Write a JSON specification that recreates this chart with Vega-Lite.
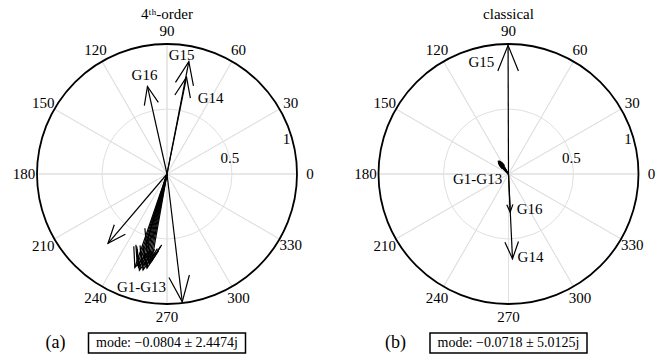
{
  "$schema": "https://vega.github.io/schema/vega-lite/v6.json",
  "background": "white",
  "autosize": {"type": "pad"},
  "padding": {"left": 12, "top": 6, "right": 0, "bottom": 0},
  "config": {
    "font": "Liberation Serif",
    "view": {"stroke": null},
    "text": {"font": "Liberation Serif", "fontSize": 15, "color": "black"},
    "title": {"font": "Liberation Serif", "fontSize": 15, "fontWeight": "normal", "color": "black"}
  },
  "datasets": {
    "spokes": [
      {"a": 0}, {"a": 30}, {"a": 60}, {"a": 90}, {"a": 120}, {"a": 150},
      {"a": 180}, {"a": 210}, {"a": 240}, {"a": 270}, {"a": 300}, {"a": 330}
    ],
    "rticks": [
      {"r": 0.5, "lab": "0.5"},
      {"r": 1, "lab": "1"}
    ],
    "arrows": [
      {"panel": "a", "g": "G1", "re": -0.4537, "im": -0.5331, "mag": 0.70, "phase": 229.6},
      {"panel": "a", "g": "G2", "re": 0.1172, "im": -0.9831, "mag": 0.99, "phase": 276.8},
      {"panel": "a", "g": "G3", "re": -0.2474, "im": -0.7186, "mag": 0.76, "phase": 251},
      {"panel": "a", "g": "G4", "re": -0.2287, "im": -0.7038, "mag": 0.74, "phase": 252},
      {"panel": "a", "g": "G5", "re": -0.2193, "im": -0.7172, "mag": 0.75, "phase": 253},
      {"panel": "a", "g": "G6", "re": -0.2122, "im": -0.7402, "mag": 0.77, "phase": 254},
      {"panel": "a", "g": "G7", "re": -0.1889, "im": -0.7051, "mag": 0.73, "phase": 255},
      {"panel": "a", "g": "G8", "re": -0.1839, "im": -0.7374, "mag": 0.76, "phase": 256},
      {"panel": "a", "g": "G9", "re": -0.1620, "im": -0.7016, "mag": 0.72, "phase": 257},
      {"panel": "a", "g": "G10", "re": -0.1538, "im": -0.7238, "mag": 0.74, "phase": 258},
      {"panel": "a", "g": "G11", "re": -0.1336, "im": -0.6871, "mag": 0.70, "phase": 259},
      {"panel": "a", "g": "G12", "re": -0.1590, "im": -0.5369, "mag": 0.56, "phase": 253.5},
      {"panel": "a", "g": "G13", "re": -0.1181, "im": -0.6697, "mag": 0.68, "phase": 260},
      {"panel": "a", "g": "G14", "re": 0.1502, "im": 0.7450, "mag": 0.76, "phase": 78.6},
      {"panel": "a", "g": "G15", "re": 0.1679, "im": 0.8638, "mag": 0.88, "phase": 79.0},
      {"panel": "a", "g": "G16", "re": -0.1505, "im": 0.6734, "mag": 0.69, "phase": 102.6},
      {"panel": "b", "g": "G1", "re": -0.0450, "im": 0.0779, "mag": 0.09, "phase": 120},
      {"panel": "b", "g": "G2", "re": -0.0530, "im": 0.0848, "mag": 0.10, "phase": 122},
      {"panel": "b", "g": "G3", "re": -0.0615, "im": 0.0912, "mag": 0.11, "phase": 124},
      {"panel": "b", "g": "G4", "re": -0.0688, "im": 0.0983, "mag": 0.12, "phase": 125},
      {"panel": "b", "g": "G5", "re": -0.0588, "im": 0.0809, "mag": 0.10, "phase": 126},
      {"panel": "b", "g": "G6", "re": -0.0692, "im": 0.0918, "mag": 0.115, "phase": 127},
      {"panel": "b", "g": "G7", "re": -0.0739, "im": 0.0946, "mag": 0.12, "phase": 128},
      {"panel": "b", "g": "G8", "re": -0.0692, "im": 0.0855, "mag": 0.11, "phase": 129},
      {"panel": "b", "g": "G9", "re": -0.0771, "im": 0.0919, "mag": 0.12, "phase": 130},
      {"panel": "b", "g": "G10", "re": -0.0689, "im": 0.0792, "mag": 0.105, "phase": 131},
      {"panel": "b", "g": "G11", "re": -0.0736, "im": 0.0817, "mag": 0.11, "phase": 132},
      {"panel": "b", "g": "G12", "re": -0.0660, "im": 0.0683, "mag": 0.095, "phase": 134},
      {"panel": "b", "g": "G13", "re": -0.0575, "im": 0.0556, "mag": 0.08, "phase": 136},
      {"panel": "b", "g": "G14", "re": 0.0308, "im": -0.6523, "mag": 0.653, "phase": 272.7},
      {"panel": "b", "g": "G15", "re": -0.0035, "im": 0.99, "mag": 0.99, "phase": 90.2},
      {"panel": "b", "g": "G16", "re": 0.0128, "im": -0.2937, "mag": 0.294, "phase": 272.5}
    ],
    "notes": [
      {"panel": "a", "lab": "G15", "x": 0.112, "y": 0.912},
      {"panel": "a", "lab": "G14", "x": 0.335, "y": 0.588},
      {"panel": "a", "lab": "G16", "x": -0.173, "y": 0.758},
      {"panel": "a", "lab": "G1-G13", "x": -0.196, "y": -0.873},
      {"panel": "b", "lab": "G15", "x": -0.208, "y": 0.858},
      {"panel": "b", "lab": "G16", "x": 0.162, "y": -0.273},
      {"panel": "b", "lab": "G14", "x": 0.169, "y": -0.642},
      {"panel": "b", "lab": "G1-G13", "x": -0.238, "y": -0.035}
    ],
    "captions": [
      {"panel": "a", "txt": "mode:  −0.0804 ± 2.4474j"},
      {"panel": "b", "txt": "mode:  −0.0718 ± 5.0125j"}
    ]
  },
  "hconcat": [
    {
      "vconcat": [
        {
          "width": 286,
          "height": 286,
          "title": {"text": "4ᵗʰ-order", "anchor": "middle", "frame": "group", "baseline": "alphabetic", "offset": -9.5},
          "layer": [
            {
              "data": {"name": "spokes"},
              "mark": {"type": "arc", "filled": false, "stroke": "#e0e0e0", "strokeWidth": 1},
              "encoding": {
                "theta": {"field": "a", "type": "quantitative", "stack": false, "scale": {"type": "linear", "domain": [0, 360], "range": [1.5708, -4.7124]}},
                "theta2": {"field": "a"},
                "radius": {"datum": 1, "type": "quantitative", "scale": {"type": "linear", "domain": [0, 1.1], "range": [0, 143], "zero": true}}
              }
            },
            {
              "data": {"name": "rticks"},
              "transform": [{"filter": "datum.r < 1"}],
              "mark": {"type": "arc", "filled": false, "stroke": "#e0e0e0", "strokeWidth": 1, "theta": 0, "theta2": 6.2832},
              "encoding": {"radius": {"field": "r", "type": "quantitative"}}
            },
            {
              "data": {"name": "rticks"},
              "transform": [{"filter": "datum.r == 1"}],
              "mark": {"type": "arc", "filled": false, "stroke": "black", "strokeWidth": 1.8, "theta": 0, "theta2": 6.2832},
              "encoding": {"radius": {"field": "r", "type": "quantitative"}}
            },
            {
              "data": {"name": "spokes"},
              "mark": {"type": "text", "align": "center", "baseline": "middle"},
              "encoding": {
                "theta": {"field": "a", "type": "quantitative", "stack": false},
                "radius": {"datum": 1.1, "type": "quantitative"},
                "text": {"field": "a", "type": "quantitative", "format": "d"}
              }
            },
            {
              "data": {"name": "rticks"},
              "mark": {"type": "text", "align": "left", "baseline": "middle", "radiusOffset": -9},
              "encoding": {
                "theta": {"datum": 17, "type": "quantitative"},
                "radius": {"field": "r", "type": "quantitative"},
                "text": {"field": "lab"}
              }
            },
            {
              "data": {"name": "arrows"},
              "transform": [{"filter": "datum.panel == 'a'"}],
              "mark": {"type": "rule", "color": "black", "strokeWidth": 1.2},
              "encoding": {
                "x": {"field": "re", "type": "quantitative", "axis": null, "scale": {"domain": [-1.1, 1.1], "nice": false, "zero": false}},
                "y": {"field": "im", "type": "quantitative", "axis": null, "scale": {"domain": [-1.1, 1.1], "nice": false, "zero": false}},
                "x2": {"datum": 0},
                "y2": {"datum": 0}
              }
            },
            {
              "data": {"name": "arrows"},
              "transform": [{"filter": "datum.panel == 'a'"}],
              "mark": {"type": "point", "shape": "M-0.4,1L0,0L0.4,1", "filled": false, "stroke": "black", "strokeWidth": 1.2, "opacity": 1},
              "encoding": {
                "x": {"field": "re", "type": "quantitative"},
                "y": {"field": "im", "type": "quantitative"},
                "size": {"field": "mag", "type": "quantitative", "legend": null, "scale": {"type": "pow", "exponent": 2, "domain": [0, 1], "range": [0, 2704]}},
                "angle": {"field": "phase", "type": "quantitative", "legend": null, "scale": {"domain": [0, 360], "range": [90, -270]}}
              }
            },
            {
              "data": {"name": "notes"},
              "transform": [{"filter": "datum.panel == 'a'"}],
              "mark": {"type": "text", "align": "center", "baseline": "middle"},
              "encoding": {
                "x": {"field": "x", "type": "quantitative"},
                "y": {"field": "y", "type": "quantitative"},
                "text": {"field": "lab"}
              }
            }
          ]
        },
        {
          "width": 157,
          "height": 20,
          "view": {"stroke": "black", "strokeWidth": 1.5},
          "title": {"text": "(a)", "orient": "left", "angle": 0, "align": "right", "baseline": "middle", "anchor": "middle", "frame": "group", "offset": 3, "fontSize": 18},
          "data": {"name": "captions"},
          "transform": [{"filter": "datum.panel == 'a'"}],
          "mark": {"type": "text", "fontSize": 14, "align": "center", "baseline": "middle"},
          "encoding": {"text": {"field": "txt"}}
        }
      ],
      "spacing": 16,
      "bounds": "flush",
      "center": true
    },
    {
      "vconcat": [
        {
          "width": 286,
          "height": 286,
          "title": {"text": "classical", "anchor": "middle", "frame": "group", "baseline": "alphabetic", "offset": -9.5},
          "layer": [
            {
              "data": {"name": "spokes"},
              "mark": {"type": "arc", "filled": false, "stroke": "#e0e0e0", "strokeWidth": 1},
              "encoding": {
                "theta": {"field": "a", "type": "quantitative", "stack": false, "scale": {"type": "linear", "domain": [0, 360], "range": [1.5708, -4.7124]}},
                "theta2": {"field": "a"},
                "radius": {"datum": 1, "type": "quantitative", "scale": {"type": "linear", "domain": [0, 1.1], "range": [0, 143], "zero": true}}
              }
            },
            {
              "data": {"name": "rticks"},
              "transform": [{"filter": "datum.r < 1"}],
              "mark": {"type": "arc", "filled": false, "stroke": "#e0e0e0", "strokeWidth": 1, "theta": 0, "theta2": 6.2832},
              "encoding": {"radius": {"field": "r", "type": "quantitative"}}
            },
            {
              "data": {"name": "rticks"},
              "transform": [{"filter": "datum.r == 1"}],
              "mark": {"type": "arc", "filled": false, "stroke": "black", "strokeWidth": 1.8, "theta": 0, "theta2": 6.2832},
              "encoding": {"radius": {"field": "r", "type": "quantitative"}}
            },
            {
              "data": {"name": "spokes"},
              "mark": {"type": "text", "align": "center", "baseline": "middle"},
              "encoding": {
                "theta": {"field": "a", "type": "quantitative", "stack": false},
                "radius": {"datum": 1.1, "type": "quantitative"},
                "text": {"field": "a", "type": "quantitative", "format": "d"}
              }
            },
            {
              "data": {"name": "rticks"},
              "mark": {"type": "text", "align": "left", "baseline": "middle", "radiusOffset": -9},
              "encoding": {
                "theta": {"datum": 17, "type": "quantitative"},
                "radius": {"field": "r", "type": "quantitative"},
                "text": {"field": "lab"}
              }
            },
            {
              "data": {"name": "arrows"},
              "transform": [{"filter": "datum.panel == 'b'"}],
              "mark": {"type": "rule", "color": "black", "strokeWidth": 1.2},
              "encoding": {
                "x": {"field": "re", "type": "quantitative", "axis": null, "scale": {"domain": [-1.1, 1.1], "nice": false, "zero": false}},
                "y": {"field": "im", "type": "quantitative", "axis": null, "scale": {"domain": [-1.1, 1.1], "nice": false, "zero": false}},
                "x2": {"datum": 0},
                "y2": {"datum": 0}
              }
            },
            {
              "data": {"name": "arrows"},
              "transform": [{"filter": "datum.panel == 'b'"}],
              "mark": {"type": "point", "shape": "M-0.4,1L0,0L0.4,1", "filled": false, "stroke": "black", "strokeWidth": 1.2, "opacity": 1},
              "encoding": {
                "x": {"field": "re", "type": "quantitative"},
                "y": {"field": "im", "type": "quantitative"},
                "size": {"field": "mag", "type": "quantitative", "legend": null, "scale": {"type": "pow", "exponent": 2, "domain": [0, 1], "range": [0, 2704]}},
                "angle": {"field": "phase", "type": "quantitative", "legend": null, "scale": {"domain": [0, 360], "range": [90, -270]}}
              }
            },
            {
              "data": {"name": "notes"},
              "transform": [{"filter": "datum.panel == 'b'"}],
              "mark": {"type": "text", "align": "center", "baseline": "middle"},
              "encoding": {
                "x": {"field": "x", "type": "quantitative"},
                "y": {"field": "y", "type": "quantitative"},
                "text": {"field": "lab"}
              }
            }
          ]
        },
        {
          "width": 157,
          "height": 20,
          "view": {"stroke": "black", "strokeWidth": 1.5},
          "title": {"text": "(b)", "orient": "left", "angle": 0, "align": "right", "baseline": "middle", "anchor": "middle", "frame": "group", "offset": 3, "fontSize": 18},
          "data": {"name": "captions"},
          "transform": [{"filter": "datum.panel == 'b'"}],
          "mark": {"type": "text", "fontSize": 14, "align": "center", "baseline": "middle"},
          "encoding": {"text": {"field": "txt"}}
        }
      ],
      "spacing": 16,
      "bounds": "flush",
      "center": true
    }
  ],
  "spacing": 39.5,
  "bounds": "full"
}
